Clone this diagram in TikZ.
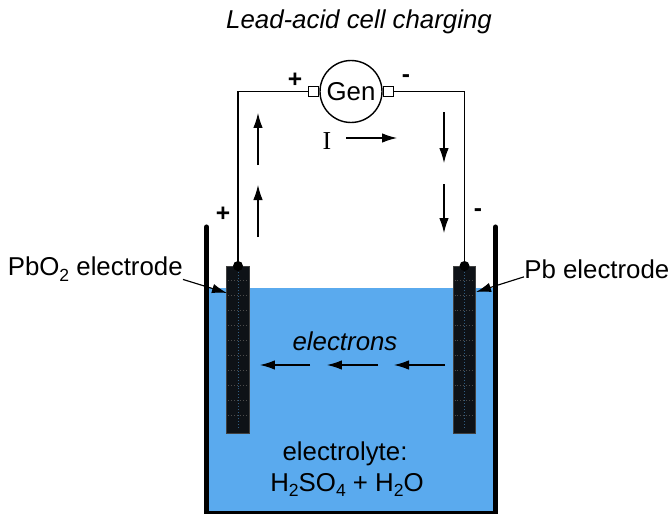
\documentclass[tikz,border=0pt]{standalone}
\usepackage{fontspec}
\setmainfont{Liberation Sans}
\newfontfamily\serifI{Liberation Serif}
\usetikzlibrary{arrows.meta}
\definecolor{acid}{HTML}{5AAAEE}
\definecolor{plate}{HTML}{0E1217}
\newcommand{\chemsub}[1]{\raisebox{-0.4ex}{\fontsize{10}{10}\selectfont #1}}
\begin{document}
\begin{tikzpicture}[x=0.02cm, y=-0.02cm, font=\fontsize{14.7}{17}\selectfont,
  arr/.style={-{Latex[length=3mm, width=1.9mm]}, line width=0.65pt},
  wire/.style={draw, line width=0.8pt},
  wall/.style={line width=2.9pt, line cap=round},
  term/.style={draw, fill=white, line width=0.7pt, inner sep=0pt, minimum width=0.21cm, minimum height=0.2cm},
  electrode/.style={draw=black!75, fill=plate, inner sep=0pt, minimum width=0.45cm, minimum height=3.34cm},
  sign/.style={font=\fontsize{14}{16}\selectfont\bfseries}]
\useasboundingbox (0,0) rectangle (670,514);
\node at (359,22) {\itshape Lead-acid cell charging};
% tank
\fill[acid] (206,288) rectangle (495,513);
\draw[wall] (206.5,227) -- (206.5,514) -- (495.5,514) -- (495.5,227);
% plates
\node[electrode] (elecL) at (238,349.5) {};
\node[electrode] (elecR) at (464.5,349.5) {};
\foreach \e in {238,464.5} {
  \foreach \y in {280,295,310,325,340,355,370,385,400,415} { \draw[black!70, dash pattern=on 0.5pt off 1.2pt, line width=0.3pt] (\e-10,\y) -- (\e+10,\y); }
  \draw[acid!55!black, dash pattern=on 0.5pt off 1.2pt, line width=0.3pt] (\e,272) -- (\e,428);
  \fill (\e,266) circle (5);
}
% generator
\node[circle, draw, line width=0.8pt, minimum size=1.24cm, inner sep=0pt] (gen) at (351,91.5) {Gen};
\node[term, anchor=east] (termL) at (gen.west) {};
\node[term, anchor=west] (termR) at (gen.east) {};
\draw[wire] (termL.west) -| (elecL.north);
\draw[wire] (termR.east) -| (elecR.north);
\node[sign] at (295,80) {+};
\node[sign] at (406,79) {-};
\node[sign] at (223,214) {+};
\node[sign] at (478,213) {-};
% current
\node at (327,141) {\serifI I};
\foreach \xa/\ya/\xb/\yb in {258/165/258/113, 258/237/258/185, 444/112/444/163, 444/184/444/233, 346/138/397/138, 310/365/260/365, 378/365/327/365, 445/365/394/365} {
  \coordinate (a) at (\xa,\ya); \coordinate (b) at (\xb,\yb); \draw[arr] (a) -- (b);
}
\node at (345,341) {\itshape electrons};
\node at (345,454) {electrolyte:};
\node at (347,485) {H\chemsub{2}SO\chemsub{4} + H\chemsub{2}O};
% labels
\node[anchor=east, inner sep=0pt] (lblL) at (183,269) {PbO\chemsub{2} electrode};
\node[anchor=west, inner sep=0pt] (lblR) at (524,269) {Pb electrode};
\coordinate (tipL) at (227,293);
\coordinate (tipR) at (476,292);
\draw[arr] (lblL.south east) ++(0,-2) -- (tipL);
\draw[arr] (lblR.south west) ++(0,-2) -- (tipR);
\end{tikzpicture}
\end{document}
